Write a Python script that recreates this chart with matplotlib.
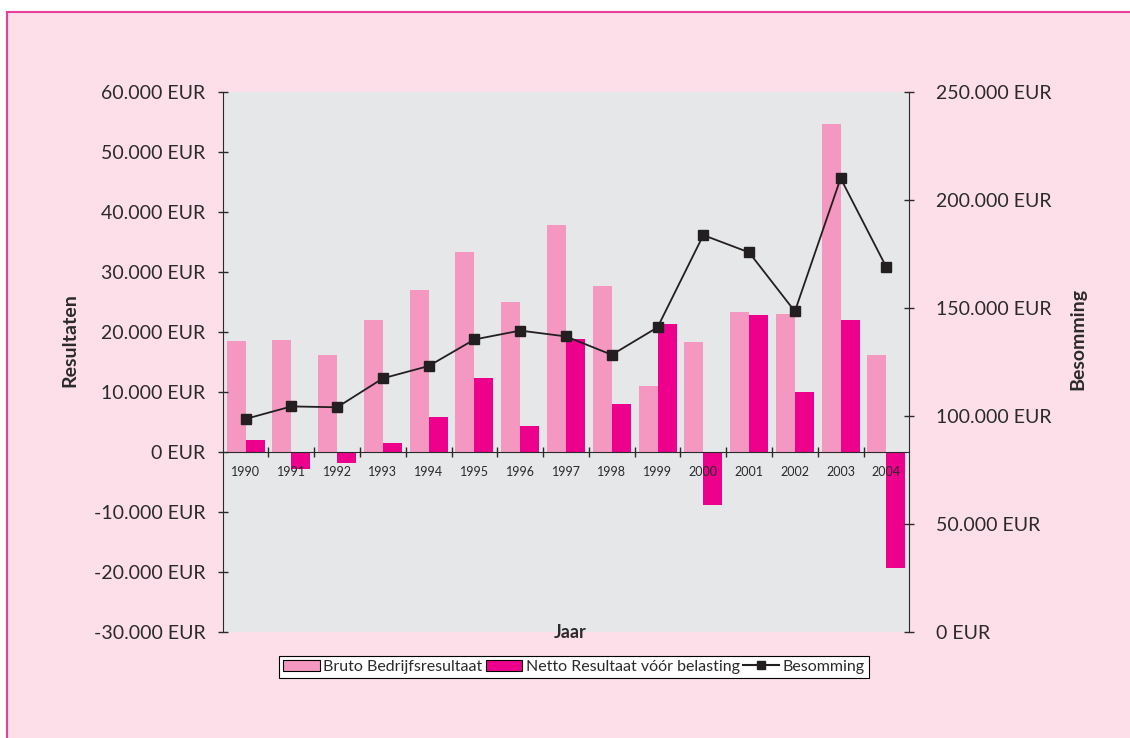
import numpy as np
import matplotlib
matplotlib.use('Agg')
import matplotlib.pyplot as plt
from matplotlib.patches import Rectangle, Patch
from matplotlib.lines import Line2D
from matplotlib.ticker import FuncFormatter, FixedLocator

plt.rcParams['font.family'] = ['Lato', 'DejaVu Sans']

# data
jaren = ['1990', '1991', '1992', '1993', '1994', '1995', '1996', '1997',
         '1998', '1999', '2000', '2001', '2002', '2003', '2004']
bruto = [18500, 18700, 16200, 22000, 27000, 33200, 25000, 37700,
         27700, 11000, 18300, 23300, 23000, 54700, 16200]
netto = [2000, -2800, -1900, 1500, 5800, 12300, 4300, 18800,
         8000, 21300, -8800, 22800, 10000, 22000, -19400]
besomming = [98500, 104300, 103900, 117300, 123000, 135300, 139400, 136700,
             128200, 140900, 183600, 175600, 148300, 209900, 168700]

roze_licht = '#F498C2'
magenta = '#EC008C'
tekst = '#2B2A2B'

def eur(v, pos):
    s = '{:,.0f}'.format(v).replace(',', '.')
    return s + ' EUR'

fig = plt.figure(figsize=(11.3, 7.38), dpi=100)
fig.patch.set_facecolor('white')
# pink panel with magenta border
fig.patches.append(Rectangle((7 / 1130, -0.05), 1.1, 1 - 12 / 738 + 0.05,
                             transform=fig.transFigure, facecolor='#FCDFE9',
                             edgecolor='#E8409A', linewidth=1.5, zorder=-10))

ax = fig.add_axes([222.7 / 1130, 1 - 631.7 / 738, (909.3 - 222.7) / 1130, 540 / 738])
ax.set_facecolor('#E6E7E9')
ax.set_axisbelow(False)  # year labels on top of the bars

x = np.arange(len(jaren))
w = 0.415
ax.bar(x - w / 2, bruto, width=w, color=roze_licht, zorder=2)
ax.bar(x + w / 2, netto, width=w, color=magenta, zorder=2)

ax.set_xlim(-0.5, len(jaren) - 0.5)
ax.set_ylim(-30000, 60000)
ax.set_yticks(np.arange(-30000, 60001, 10000))
ax.yaxis.set_major_formatter(FuncFormatter(eur))
ax.tick_params(axis='y', direction='inout', length=7, width=1, pad=9,
               labelsize=14, labelcolor=tekst, color=tekst)

ax.spines['top'].set_visible(False)
ax.spines['right'].set_visible(False)
ax.spines['bottom'].set_position(('data', 0))
ax.spines['bottom'].set_zorder(4)
ax.spines['left'].set_color(tekst)
ax.spines['bottom'].set_color(tekst)

ax.set_xticks(x)
ax.set_xticklabels(jaren)
ax.xaxis.set_minor_locator(FixedLocator(x[:-1] + 0.5))
ax.tick_params(axis='x', which='major', length=0, pad=10, labelsize=9, labelcolor=tekst)
ax.tick_params(axis='x', which='minor', direction='inout', length=7, width=1, color=tekst)

ax2 = ax.twinx()
ax2.plot(x, besomming, color='#231F20', linewidth=1.3, marker='s', markersize=7.5,
         markerfacecolor='#231F20', zorder=5)
ax2.set_ylim(0, 250000)
ax2.set_yticks(np.arange(0, 250001, 50000))
ax2.yaxis.set_major_formatter(FuncFormatter(eur))
ax2.tick_params(axis='y', direction='inout', length=7, width=1, pad=16,
                labelsize=14, labelcolor=tekst, color=tekst)
for s in ['top', 'bottom', 'left']:
    ax2.spines[s].set_visible(False)
ax2.spines['right'].set_color(tekst)

fig.text(70 / 1130, 1 - 340 / 738, 'Resultaten', rotation=90, ha='center', va='center',
         fontsize=14, fontweight='bold', color=tekst)
fig.text(1078 / 1130, 1 - 339 / 738, 'Besomming', rotation=90, ha='center', va='center',
         fontsize=14, fontweight='bold', color=tekst)
fig.text(570 / 1130, 1 - 632 / 738, 'Jaar', ha='center', va='center',
         fontsize=13, fontweight='bold', color=tekst)

handles = [Patch(facecolor=roze_licht, edgecolor='black', linewidth=0.8),
           Patch(facecolor=magenta, edgecolor='black', linewidth=0.8),
           Line2D([], [], color='#231F20', linewidth=1.5, marker='s', markersize=6)]
labels = ['Bruto Bedrijfsresultaat', 'Netto Resultaat vóór belasting', 'Besomming']
leg = fig.legend(handles, labels, loc='center', bbox_to_anchor=(574 / 1130, 1 - 667 / 738),
                 ncol=3, frameon=True, fancybox=False, edgecolor='black', facecolor='white',
                 framealpha=1, fontsize=11.5, handlelength=2.3, handleheight=0.7,
                 handletextpad=0.2, columnspacing=0.2, borderpad=0.25, labelcolor=tekst)
leg.get_frame().set_linewidth(0.8)

fig.savefig('out.png', dpi=100, facecolor=fig.get_facecolor())
